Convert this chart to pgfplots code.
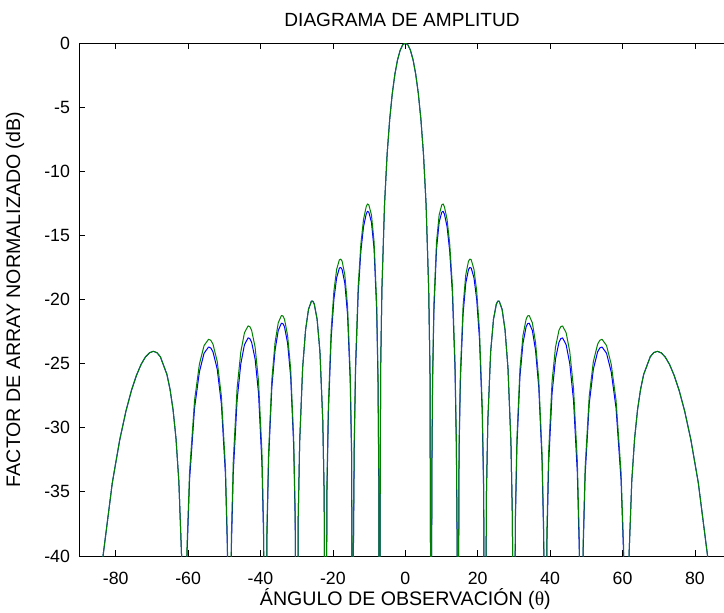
\documentclass[border=0pt]{standalone}
\usepackage{fontspec}
\setmainfont{Liberation Sans}
\newfontfamily\serifgreek{Liberation Serif}
\usepackage{pgfplots}
\usepackage{pgfplotstable}
\pgfplotsset{compat=1.18}
\definecolor{mblue}{rgb}{0,0,1}
\definecolor{mgreen}{rgb}{0,0.5,0}

% th = observation angle (deg), b = blue series (dB), g = green series (dB)
\pgfplotstableread{
th b g
-90 -60 -60
-83.591 -40.20 -40.20
-80.931 -34.28 -34.28
-78.887 -30.94 -30.94
-77.161 -28.69 -28.69
-75.639 -27.08 -27.08
-74.259 -25.91 -25.91
-72.989 -25.06 -25.06
-71.805 -24.49 -24.49
-70.691 -24.16 -24.16
-69.636 -24.04 -24.04
-68.631 -24.14 -24.14
-67.668 -24.46 -24.46
-65.853 -25.84 -25.84
-64.992 -27.00 -27.00
-64.158 -28.59 -28.59
-63.348 -30.82 -30.82
-62.561 -34.15 -34.15
-61.794 -40.04 -40.04
-61.045 -60 -60
-60.314 -40.01 -39.41
-59.598 -34.08 -33.48
-58.212 -28.45 -27.85
-56.877 -25.64 -25.04
-55.589 -24.19 -23.59
-54.341 -23.70 -23.10
-53.731 -23.78 -23.18
-53.130 -24.08 -23.48
-51.953 -25.43 -24.83
-50.805 -28.14 -27.54
-49.685 -33.66 -33.06
-49.135 -39.54 -38.94
-48.590 -60 -60
-48.052 -39.47 -38.54
-47.519 -33.52 -32.59
-46.469 -27.86 -26.93
-45.439 -25.01 -24.08
-44.427 -23.52 -22.59
-43.433 -22.99 -22.06
-42.942 -23.05 -22.12
-42.454 -23.33 -22.40
-41.491 -24.64 -23.71
-40.542 -27.31 -26.38
-39.606 -32.79 -31.86
-39.142 -38.65 -37.72
-38.682 -60 -60
-38.225 -38.53 -37.93
-37.771 -32.56 -31.96
-36.870 -26.86 -26.26
-35.980 -23.96 -23.36
-35.100 -22.42 -21.82
-34.229 -21.85 -21.25
-33.797 -21.88 -21.28
-33.367 -22.14 -21.54
-32.514 -23.40 -22.80
-31.668 -26.02 -25.42
-30.831 -31.44 -30.84
-30.414 -37.27 -36.67
-30.000 -60 -60
-29.587 -37.10 -37.10
-29.176 -31.10 -31.10
-28.359 -25.33 -25.33
-27.549 -22.37 -22.37
-26.744 -20.77 -20.77
-25.944 -20.13 -20.13
-25.547 -20.13 -20.13
-25.151 -20.35 -20.35
-24.362 -21.54 -21.54
-23.578 -24.08 -24.08
-22.799 -29.43 -29.43
-22.411 -35.22 -35.22
-22.024 -60 -60
-21.639 -34.96 -34.31
-21.256 -28.92 -28.27
-20.487 -23.06 -22.41
-19.725 -20.00 -19.35
-18.966 -18.30 -17.65
-18.210 -17.55 -16.90
-17.833 -17.50 -16.85
-17.458 -17.66 -17.01
-16.708 -18.72 -18.07
-15.962 -21.14 -20.49
-15.218 -26.34 -25.69
-14.848 -32.06 -31.41
-14.478 -60 -60
-14.330 -39.70 -39.13
-14.108 -31.64 -31.07
-13.739 -25.52 -24.95
-13.003 -19.48 -18.91
-12.269 -16.23 -15.66
-11.537 -14.32 -13.75
-10.807 -13.34 -12.77
-10.443 -13.12 -12.55
-10.079 -13.19 -12.62
-9.352 -13.97 -13.40
-8.627 -16.06 -15.49
-7.903 -20.90 -20.33
-7.542 -26.42 -25.85
-7.325 -34.10 -33.53
-7.181 -60 -60
-6.820 -25.560 -25.560
-6.459 -19.183 -19.183
-5.739 -12.585 -12.585
-5.020 -8.659 -8.659
-4.301 -5.922 -5.922
-3.583 -3.908 -3.908
-2.866 -2.411 -2.411
-2.149 -1.321 -1.321
-1.433 -0.577 -0.577
-0.716 -0.143 -0.143
0 0 0
0.716 -0.143 -0.143
1.433 -0.577 -0.577
2.149 -1.321 -1.321
2.866 -2.411 -2.411
3.583 -3.908 -3.908
4.301 -5.922 -5.922
5.020 -8.659 -8.659
5.739 -12.585 -12.585
6.459 -19.183 -19.183
6.820 -25.560 -25.560
7.181 -60 -60
7.325 -34.10 -33.53
7.542 -26.42 -25.85
7.903 -20.90 -20.33
8.627 -16.06 -15.49
9.352 -13.97 -13.40
10.079 -13.19 -12.62
10.443 -13.12 -12.55
10.807 -13.34 -12.77
11.537 -14.32 -13.75
12.269 -16.23 -15.66
13.003 -19.48 -18.91
13.739 -25.52 -24.95
14.108 -31.64 -31.07
14.330 -39.70 -39.13
14.478 -60 -60
14.848 -32.06 -31.41
15.218 -26.34 -25.69
15.962 -21.14 -20.49
16.708 -18.72 -18.07
17.458 -17.66 -17.01
17.833 -17.50 -16.85
18.210 -17.55 -16.90
18.966 -18.30 -17.65
19.725 -20.00 -19.35
20.487 -23.06 -22.41
21.256 -28.92 -28.27
21.639 -34.96 -34.31
22.024 -60 -60
22.411 -35.22 -35.22
22.799 -29.43 -29.43
23.578 -24.08 -24.08
24.362 -21.54 -21.54
25.151 -20.35 -20.35
25.547 -20.13 -20.13
25.944 -20.13 -20.13
26.744 -20.77 -20.77
27.549 -22.37 -22.37
28.359 -25.33 -25.33
29.176 -31.10 -31.10
29.587 -37.10 -37.10
30.000 -60 -60
30.414 -37.27 -36.67
30.831 -31.44 -30.84
31.668 -26.02 -25.42
32.514 -23.40 -22.80
33.367 -22.14 -21.54
33.797 -21.88 -21.28
34.229 -21.85 -21.25
35.100 -22.42 -21.82
35.980 -23.96 -23.36
36.870 -26.86 -26.26
37.771 -32.56 -31.96
38.225 -38.53 -37.93
38.682 -60 -60
39.142 -38.65 -37.72
39.606 -32.79 -31.86
40.542 -27.31 -26.38
41.491 -24.64 -23.71
42.454 -23.33 -22.40
42.942 -23.05 -22.12
43.433 -22.99 -22.06
44.427 -23.52 -22.59
45.439 -25.01 -24.08
46.469 -27.86 -26.93
47.519 -33.52 -32.59
48.052 -39.47 -38.54
48.590 -60 -60
49.135 -39.54 -38.94
49.685 -33.66 -33.06
50.805 -28.14 -27.54
51.953 -25.43 -24.83
53.130 -24.08 -23.48
53.731 -23.78 -23.18
54.341 -23.70 -23.10
55.589 -24.19 -23.59
56.877 -25.64 -25.04
58.212 -28.45 -27.85
59.598 -34.08 -33.48
60.314 -40.01 -39.41
61.045 -60 -60
61.794 -40.04 -40.04
62.561 -34.15 -34.15
63.348 -30.82 -30.82
64.158 -28.59 -28.59
64.992 -27.00 -27.00
65.853 -25.84 -25.84
67.668 -24.46 -24.46
68.631 -24.14 -24.14
69.636 -24.04 -24.04
70.691 -24.16 -24.16
71.805 -24.49 -24.49
72.989 -25.06 -25.06
74.259 -25.91 -25.91
75.639 -27.08 -27.08
77.161 -28.69 -28.69
78.887 -30.94 -30.94
80.931 -34.28 -34.28
83.591 -40.20 -40.20
90 -60 -60
}\datatab

\begin{document}
\begin{tikzpicture}
\begin{axis}[
  at={(0,0)}, anchor=south west,
  scale only axis,
  width=488.7pt, height=384.75pt,
  xmin=-90, xmax=90, ymin=-40, ymax=0,
  xtick={-80,-60,-40,-20,0,20,40,60,80},
  xticklabels={-80,-60,-40,-20,0,20,40,60,80},
  ytick={-40,-35,-30,-25,-20,-15,-10,-5,0},
  yticklabels={-40,-35,-30,-25,-20,-15,-10,-5,0},
  tick align=inside, xtick pos=both, ytick pos=both,
  major tick length=4.5pt,
  tick style={black, line width=0.6pt},
  axis line style={black, line width=0.75pt},
  ticklabel style={font=\fontsize{13.3}{15}\selectfont},
  xticklabel style={anchor=base, yshift=-21pt},
  yticklabel style={anchor=east, inner sep=0pt, xshift=-7pt},
  title={DIAGRAMA DE AMPLITUD},
  title style={font=\fontsize{14.3}{16}\selectfont, at={(axis description cs:0.495,1.0175)}, anchor=base, inner sep=0pt},
  xlabel={ÁNGULO DE OBSERVACIÓN ({\serifgreek θ})},
  xlabel style={font=\fontsize{14.7}{16}\selectfont, at={(axis description cs:0.5,-0.0965)}, anchor=base, inner sep=0pt},
  ylabel={FACTOR DE ARRAY NORMALIZADO (dB)},
  ylabel style={font=\fontsize{14.7}{16}\selectfont, at={(axis description cs:-0.099,0.5)}, anchor=center, inner sep=0pt},
  clip=true,
]
\addplot[mblue, line width=0.75pt, line join=round, no markers] table[x=th, y=b] {\datatab};
\addplot[mgreen, line width=0.75pt, line join=round, no markers] table[x=th, y=g] {\datatab};
\end{axis}
\pgfresetboundingbox
\path[use as bounding box] (-59.625pt,-42pt) rectangle (483.375pt,417pt);
\end{tikzpicture}
\end{document}
